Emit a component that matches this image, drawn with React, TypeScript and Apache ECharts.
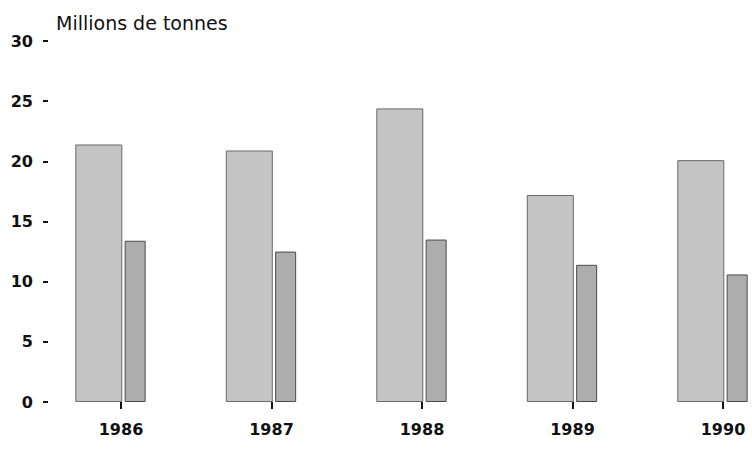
import React, { useEffect, useRef } from "react";
import * as echarts from "echarts";

const years = ["1986", "1987", "1988", "1989", "1990"];
const wideValues = [21.4, 20.9, 24.4, 17.2, 20.1];
const narrowValues = [13.4, 12.5, 13.5, 11.4, 10.6];
const yTicks = [0, 5, 10, 15, 20, 25, 30];
const unitLabel = "Millions de tonnes";

export default function App() {
  const ref = useRef<HTMLDivElement>(null);
  useEffect(() => {
    if (!ref.current) return;
    const chart = echarts.init(ref.current, null, { renderer: "svg" });
    const font = "DejaVu Sans, Liberation Sans, sans-serif";
    chart.setOption({
      animation: false,
      backgroundColor: "#ffffff",
      title: {
        text: unitLabel,
        left: 51,
        top: 8,
        textStyle: { fontFamily: font, fontSize: 19, fontWeight: "normal", color: "#111" },
      },
      grid: { left: 121, top: 41, right: 29, bottom: 52, containLabel: false },
      xAxis: {
        type: "category",
        data: years,
        boundaryGap: false,
        offset: 4,
        axisLine: { show: false },
        axisTick: { show: true, length: 7, lineStyle: { color: "#111", width: 2 } },
        axisLabel: { margin: 15, fontFamily: font, fontSize: 16, fontWeight: "bold", color: "#111" },
        splitLine: { show: false },
      },
      yAxis: {
        type: "value",
        min: yTicks[0],
        max: yTicks[yTicks.length - 1],
        interval: 5,
        offset: 73,
        axisLine: { show: false },
        axisTick: { show: true, length: 5, lineStyle: { color: "#111", width: 2 } },
        axisLabel: { margin: 15, fontFamily: font, fontSize: 16, fontWeight: "bold", color: "#111" },
        splitLine: { show: false },
      },
      series: [
        {
          type: "bar",
          data: wideValues,
          barWidth: 47,
          barGap: "5%",
          clip: false,
          itemStyle: { color: "#c4c4c4", borderColor: "#6a6a6a", borderWidth: 1 },
        },
        {
          type: "bar",
          data: narrowValues,
          barWidth: 21,
          clip: false,
          itemStyle: { color: "#adadad", borderColor: "#4a4a4a", borderWidth: 1 },
        },
        {
          type: "bar",
          name: "spacer",
          data: years.map(() => null),
          barWidth: 20,
          silent: true,
          itemStyle: { color: "transparent" },
        },
      ],
    });
    return () => chart.dispose();
  }, []);
  return (
    <div
      ref={ref}
      style={{ position: "fixed", left: 0, top: 0, width: 752, height: 454 }}
    />
  );
}
